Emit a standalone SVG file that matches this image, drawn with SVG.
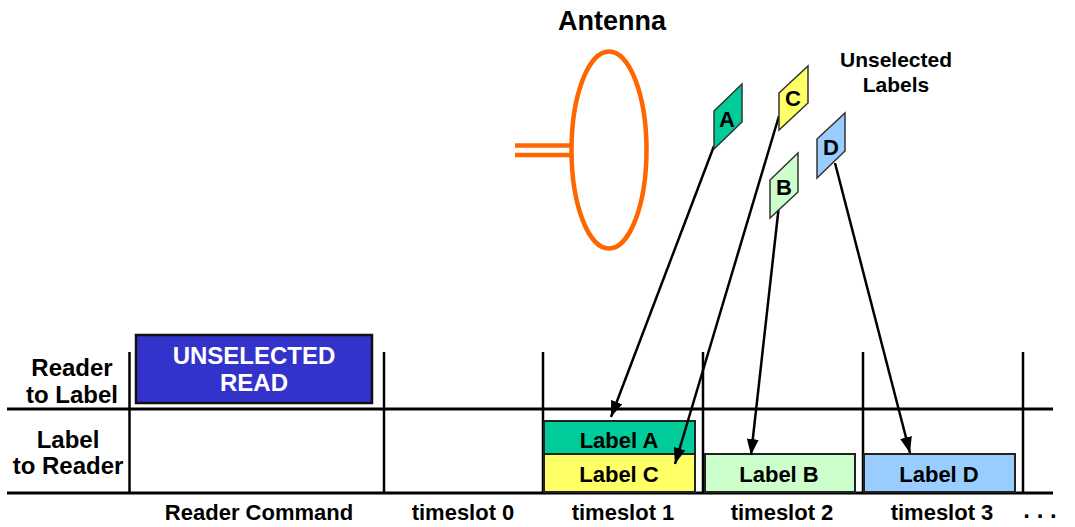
<svg xmlns="http://www.w3.org/2000/svg" width="1075" height="527" viewBox="0 0 1075 527">
  <style>
    .t { font-family: "Liberation Sans", Arial, sans-serif; font-weight: bold; fill: #000; text-anchor: middle; }
    .row { font-size: 24px; }
    .slot { font-size: 22px; }
    .lbl { font-size: 22px; }
    .grid { stroke: #000; stroke-width: 3; fill: none; }
    .vline { stroke: #000; stroke-width: 2.5; fill: none; }
    .box { stroke: #222; stroke-width: 2; }
    .tag { stroke: #333; stroke-width: 1.5; }
    .ant { stroke: #FF6600; stroke-width: 4.5; fill: none; }
    .conn { stroke: #000; stroke-width: 2.5; fill: none; marker-end: url(#arrow); }
  </style>
  <defs>
    <marker id="arrow" markerUnits="userSpaceOnUse" markerWidth="16" markerHeight="12" viewBox="0 0 16 12" refX="16" refY="6" orient="auto">
      <path d="M0,0 L16,6 L0,12 Z" fill="#000"/>
    </marker>
  </defs>
  <rect width="1075" height="527" fill="#fff"/>

  <!-- antenna -->
  <g id="antenna">
    <text class="t" x="612" y="30" font-size="27">Antenna</text>
    <ellipse class="ant" cx="609" cy="150" rx="37.5" ry="98.5"/>
    <line class="ant" x1="515" y1="145.5" x2="571" y2="145.5"/>
    <line class="ant" x1="515" y1="155" x2="571" y2="155"/>
  </g>

  <g id="unselected-caption">
    <text class="t" x="896" y="67" font-size="21">Unselected</text>
    <text class="t" x="896" y="92" font-size="21">Labels</text>
  </g>

  <!-- timing grid -->
  <g id="grid">
    <line class="grid" x1="7" y1="409" x2="1053" y2="409"/>
    <line class="grid" x1="7" y1="493" x2="1053" y2="493"/>
    <line class="vline" x1="129.5" y1="352" x2="129.5" y2="493"/>
    <line class="vline" x1="384" y1="352" x2="384" y2="493"/>
    <line class="vline" x1="543" y1="352" x2="543" y2="493"/>
    <line class="vline" x1="703" y1="352" x2="703" y2="493"/>
    <line class="vline" x1="863" y1="352" x2="863" y2="493"/>
    <line class="vline" x1="1023" y1="352" x2="1023" y2="493"/>
  </g>

  <g id="row-labels">
    <text class="t row" x="72" y="376">Reader</text>
    <text class="t row" x="72" y="403">to Label</text>
    <text class="t row" x="68" y="448">Label</text>
    <text class="t row" x="68" y="474">to Reader</text>
  </g>

  <g id="slot-labels">
    <text class="t slot" x="259" y="520">Reader Command</text>
    <text class="t slot" x="463" y="520">timeslot 0</text>
    <text class="t slot" x="623" y="520">timeslot 1</text>
    <text class="t slot" x="782" y="520">timeslot 2</text>
    <text class="t slot" x="942" y="520">timeslot 3</text>
    <text class="t" x="1040" y="518" font-size="24" text-anchor="start">. . .</text>
  </g>

  <g id="unselected-read">
    <rect x="136" y="335" width="236" height="68" fill="#3333CC" stroke="#111" stroke-width="2.5"/>
    <text class="t" x="254" y="364" font-size="24" style="fill:#fff">UNSELECTED</text>
    <text class="t" x="254" y="391" font-size="24" style="fill:#fff">READ</text>
  </g>

  <g id="label-a">
    <rect class="box" x="544" y="421" width="151" height="33" fill="#00CC99"/>
    <text class="t lbl" x="619" y="448">Label A</text>
  </g>
  <g id="label-c">
    <rect class="box" x="544" y="454" width="151" height="38" fill="#FFFF66"/>
    <text class="t lbl" x="619" y="482">Label C</text>
  </g>
  <g id="label-b">
    <rect class="box" x="705" y="454" width="150" height="38" fill="#CCFFCC"/>
    <text class="t lbl" x="779" y="482">Label B</text>
  </g>
  <g id="label-d">
    <rect class="box" x="864" y="454" width="151" height="38" fill="#99CCFF"/>
    <text class="t lbl" x="939" y="482">Label D</text>
  </g>

  <!-- connectors from tags to their reply slots -->
  <g id="connectors">
    <line class="conn" x1="714" y1="146" x2="611" y2="417"/>
    <line class="conn" x1="779" y1="116" x2="675" y2="464"/>
    <line class="conn" x1="779" y1="205" x2="751" y2="455"/>
    <line class="conn" x1="835" y1="163" x2="910" y2="453"/>
  </g>

  <!-- tags -->
  <g id="tag-a">
    <polygon class="tag" points="714,111 742,84 742,122 714,149" fill="#00CC99"/>
    <text class="t" x="727" y="127" font-size="22">A</text>
  </g>
  <g id="tag-c">
    <polygon class="tag" points="779,93 808,66 808,103 779,130" fill="#FFFF66"/>
    <text class="t" x="793" y="106" font-size="22">C</text>
  </g>
  <g id="tag-b">
    <polygon class="tag" points="770,180 798,153 798,192 770,218" fill="#CCFFCC"/>
    <text class="t" x="784" y="195" font-size="22">B</text>
  </g>
  <g id="tag-d">
    <polygon class="tag" points="817,139 845,113 845,151 817,178" fill="#99CCFF"/>
    <text class="t" x="831" y="155" font-size="22">D</text>
  </g>
</svg>
